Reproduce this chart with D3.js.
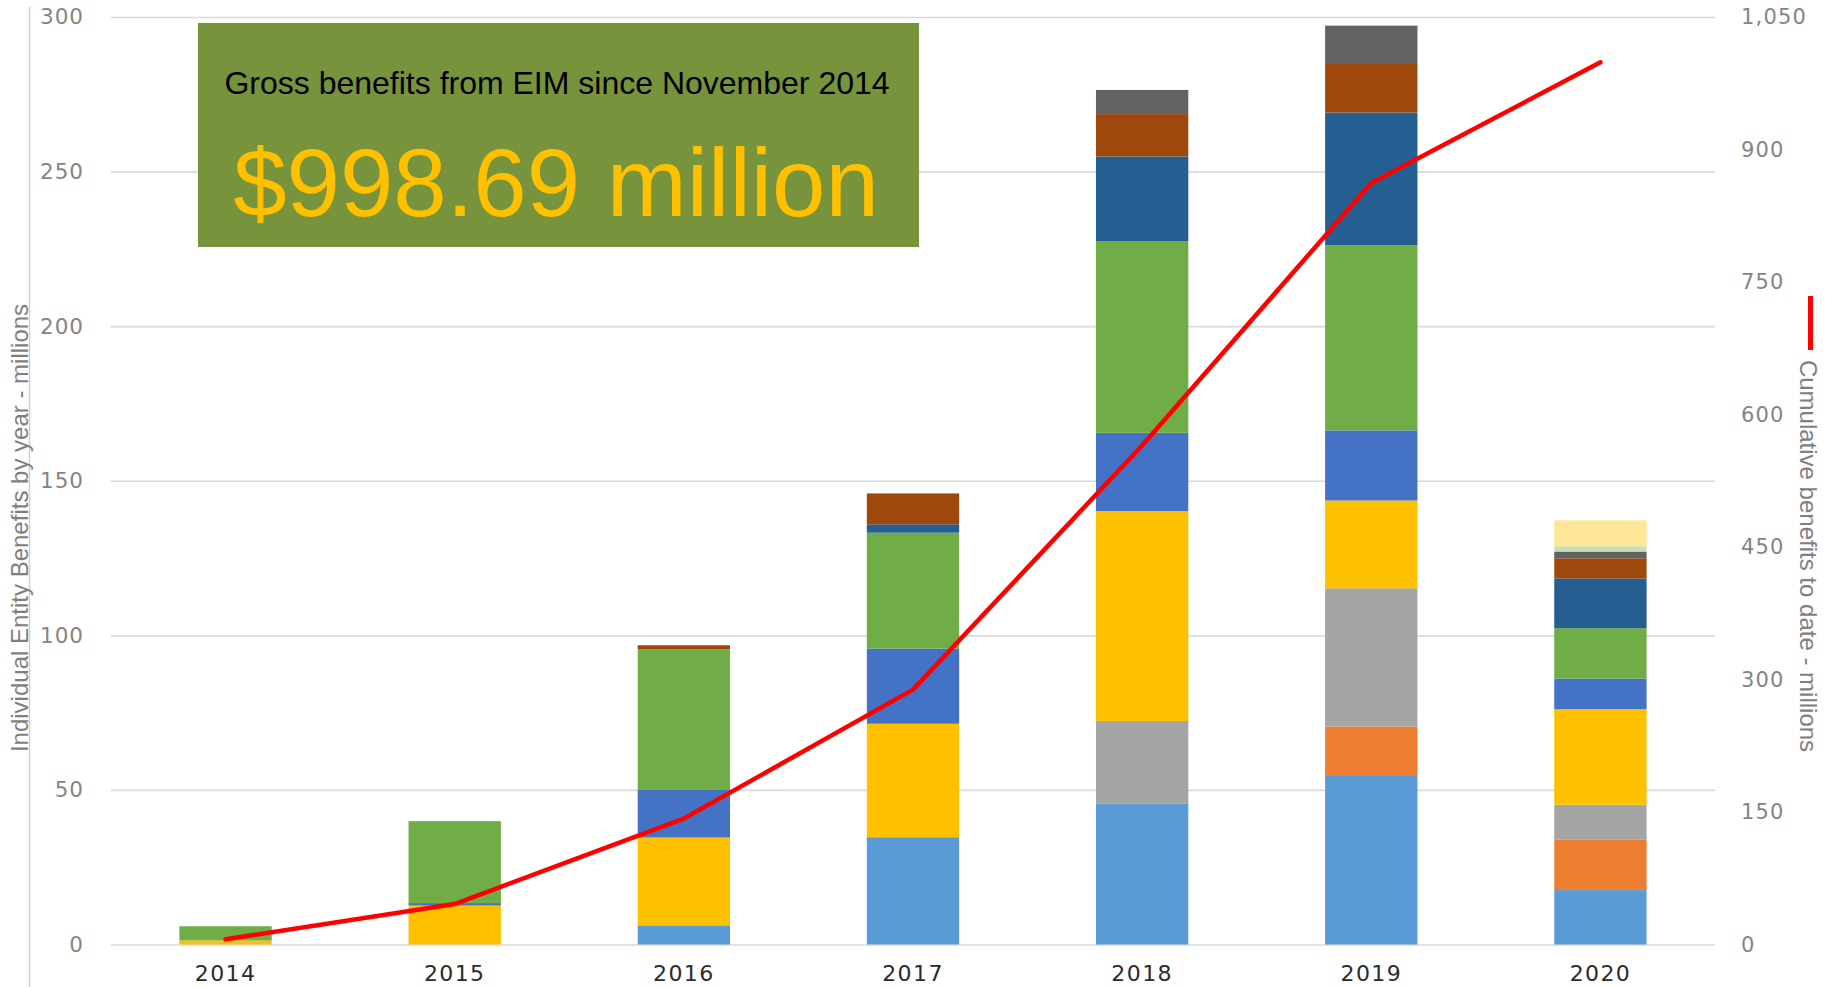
<!DOCTYPE html>
<html>
<head>
<meta charset="utf-8">
<script src="https://d3js.org/d3.v7.min.js"></script>
<title>EIM gross benefits</title>
<style>
  body { margin: 0; background: #fff; }
  svg { display: block; }
</style>
</head>
<body>
<svg width="1835" height="987"></svg>
<script>
const svg = d3.select("svg"), width = +svg.attr("width"), height = +svg.attr("height");

// categories
const years = ["2014", "2015", "2016", "2017", "2018", "2019", "2020"];

// per-entity yearly benefits (millions), stacked bottom to top
const entityNames = ["Entity 1", "Entity 2", "Entity 3", "Entity 4", "Entity 5", "Entity 6",
                     "Entity 7", "Entity 8", "Entity 9", "Entity 10", "Entity 11"];
const entity1  = [0,    0,    6.2,  34.7, 45.5, 54.5, 17.6];
const entity2  = [0,    0,    0,    0,    0,    16.0, 16.4];
const entity3  = [0,    0,    0,    0,    26.8, 44.7, 11.2];
const entity4  = [1.3,  12.6, 28.4, 36.7, 67.9, 28.4, 30.9];
const entity5  = [0,    0.8,  15.6, 24.3, 25.3, 22.7, 9.9];
const entity6  = [4.6,  26.5, 45.3, 37.5, 61.9, 59.9, 16.3];
const entity7  = [0,    0,    0,    2.7,  27.5, 42.9, 16.1];
const entity8  = [0,    0,    1.3,  10.0, 13.7, 16.0, 6.5];
const entity9  = [0,    0,    0,    0,    7.8,  12.1, 2.2];
const entity10 = [0,    0,    0,    0,    0,    0,    1.7];
const entity11 = [0,    0,    0,    0,    0,    0,    8.4];

// cumulative benefits to date (millions), right axis
const cumulative = [5.9, 45.8, 142.6, 288.5, 564.9, 862.1, 998.7];

const leftTicks = [0, 50, 100, 150, 200, 250, 300];
const rightTicks = [0, 150, 300, 450, 600, 750, 900, 1050];

const colors = ["#5B9BD5", "#ED7D31", "#A5A5A5", "#FFC000", "#4472C4", "#70AD47",
                "#255E91", "#9E480E", "#636363", "#C5E0B4", "#FFE699"];

const seriesValues = [entity1, entity2, entity3, entity4, entity5, entity6,
                      entity7, entity8, entity9, entity10, entity11];

// build table for d3.stack
const table = years.map((y, i) => {
  const row = { year: y };
  entityNames.forEach((n, k) => { row[n] = seriesValues[k][i]; });
  return row;
});

const plotLeft = 111, plotRight = 1715, plotTop = 17, plotBottom = 944.5;

const x = d3.scaleBand().domain(years).range([plotLeft, plotRight])
  .paddingInner(0.597).paddingOuter(0.2985);
const y = d3.scaleLinear().domain([0, 300]).range([plotBottom, plotTop]);
const yR = d3.scaleLinear().domain([0, 1050]).range([plotBottom, plotTop]);
const color = d3.scaleOrdinal().domain(entityNames).range(colors);

// left axis line
svg.append("line")
  .attr("x1", 29.5).attr("x2", 29.5).attr("y1", 7).attr("y2", height)
  .attr("stroke", "#d0d0d0").attr("stroke-width", 1.5);

// gridlines
svg.append("g")
  .attr("transform", `translate(${plotLeft},0)`)
  .call(d3.axisLeft(y).tickValues(leftTicks).tickSize(-(plotRight - plotLeft)).tickFormat(""))
  .call(g => g.select(".domain").remove())
  .call(g => g.selectAll("line").attr("stroke", "#d9d9d9").attr("stroke-width", 1.6));

// left tick labels
svg.append("g")
  .attr("transform", "translate(84,0)")
  .call(d3.axisLeft(y).tickValues(leftTicks).tickSize(0).tickPadding(0))
  .call(g => g.select(".domain").remove())
  .call(g => g.selectAll("text")
    .attr("font-family", "DejaVu Sans").attr("font-size", 21.5)
    .attr("letter-spacing", 1).attr("fill", "#858585"));

// right tick labels
svg.append("g")
  .attr("transform", "translate(1741,0)")
  .call(d3.axisRight(yR).tickValues(rightTicks).tickSize(0).tickPadding(0).tickFormat(d3.format(",")))
  .call(g => g.select(".domain").remove())
  .call(g => g.selectAll("text")
    .attr("font-family", "DejaVu Sans").attr("font-size", 21)
    .attr("letter-spacing", 1.2).attr("fill", "#858585"));

// x labels
svg.append("g")
  .attr("transform", `translate(0,${plotBottom})`)
  .call(d3.axisBottom(x).tickSize(0).tickPadding(21))
  .call(g => g.select(".domain").remove())
  .call(g => g.selectAll("text")
    .attr("font-family", "DejaVu Sans").attr("font-size", 22)
    .attr("letter-spacing", 1.4).attr("fill", "#2b2b2b"));

// stacked bars
const stacked = d3.stack().keys(entityNames)(table);
svg.append("g")
  .selectAll("g")
  .data(stacked)
  .enter().append("g")
  .attr("fill", d => color(d.key))
  .selectAll("rect")
  .data(d => d)
  .enter().append("rect")
  .attr("x", d => x(d.data.year))
  .attr("y", d => y(d[1]))
  .attr("width", x.bandwidth())
  .attr("height", d => y(d[0]) - y(d[1]));

// cumulative line
const line = d3.line()
  .x((d, i) => x(years[i]) + x.bandwidth() / 2)
  .y(d => yR(d));
svg.append("path")
  .datum(cumulative)
  .attr("d", line)
  .attr("fill", "none")
  .attr("stroke", "#ff0000")
  .attr("stroke-width", 4.5)
  .attr("stroke-linejoin", "round")
  .attr("stroke-linecap", "round");

// axis titles
svg.append("text")
  .attr("transform", "translate(27.5,528) rotate(-90)")
  .attr("text-anchor", "middle")
  .attr("font-family", "Liberation Sans, Arial, sans-serif")
  .attr("font-size", 24)
  .attr("fill", "#7f7f7f")
  .text("Individual Entity Benefits by year - millions");

svg.append("text")
  .attr("transform", "translate(1800,556) rotate(90)")
  .attr("text-anchor", "middle")
  .attr("font-family", "Liberation Sans, Arial, sans-serif")
  .attr("font-size", 24)
  .attr("fill", "#7f7f7f")
  .text("Cumulative benefits to date - millions");

// legend marker for the cumulative line
svg.append("line")
  .attr("x1", 1810.5).attr("x2", 1810.5).attr("y1", 296).attr("y2", 350)
  .attr("stroke", "#ff0000").attr("stroke-width", 5);

// headline box
const box = svg.append("g");
box.append("rect")
  .attr("x", 198).attr("y", 23).attr("width", 721).attr("height", 224)
  .attr("fill", "#77933C");
box.append("text")
  .attr("x", 557).attr("y", 94)
  .attr("text-anchor", "middle")
  .attr("font-family", "Liberation Sans, Arial, sans-serif")
  .attr("font-size", 32)
  .attr("fill", "#000")
  .text("Gross benefits from EIM since November 2014");
box.append("text")
  .attr("x", 556).attr("y", 216)
  .attr("text-anchor", "middle")
  .attr("font-family", "Liberation Sans, Arial, sans-serif")
  .attr("font-size", 96)
  .attr("fill", "#FFC000")
  .text("$998.69 million");
</script>
</body>
</html>
